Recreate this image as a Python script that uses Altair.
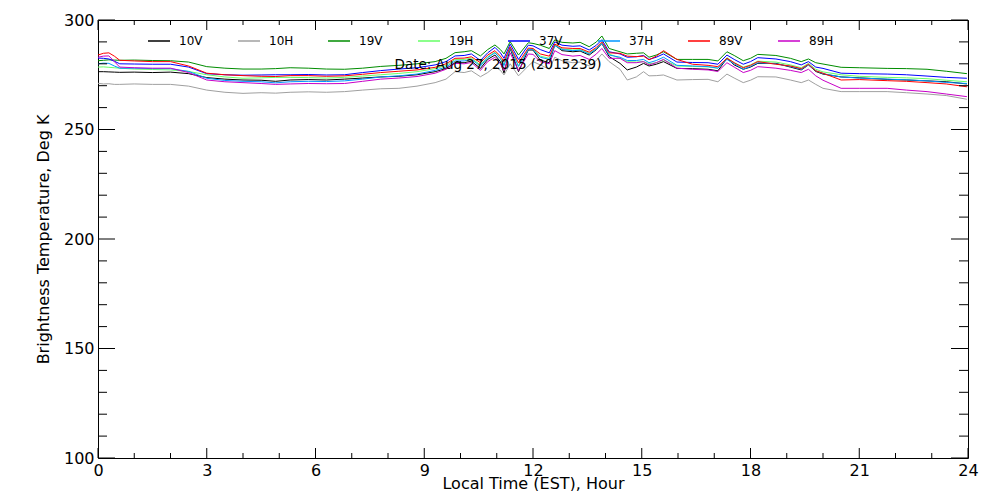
import altair as alt
import pandas as pd

# ---------------- data ----------------
hours = [0, 0.15, 0.3, 0.45, 0.6, 1.0, 1.5, 2.0, 2.5, 3.0,
         3.5, 4.0, 4.5, 4.9, 5.3, 5.8, 6.3, 6.8, 7.3, 7.8,
         8.3, 8.8, 9.3, 9.6, 9.85, 10.1, 10.3, 10.55, 10.75, 10.95,
         11.1, 11.2, 11.37, 11.6, 11.87, 12.0, 12.2, 12.45, 12.6, 12.8,
         13.1, 13.3, 13.55, 13.75, 13.9, 14.1, 14.4, 14.6, 14.85, 15.05,
         15.2, 15.4, 15.6, 15.97, 16.4, 16.83, 17.1, 17.35, 17.55, 17.8,
         18.0, 18.2, 18.7, 19.1, 19.4, 19.6, 19.8, 20.0, 20.5, 21.0,
         21.77, 22.3, 22.87, 23.4, 23.97]

tb_10v = [276.4, 276.4, 276.3, 276.2, 276.1, 276.2, 276.0, 276.2, 275.5, 273.7,
          273.0, 272.6, 272.5, 272.0, 272.6, 272.8, 272.6, 273.0, 273.5, 274.0,
          274.3, 275.0, 276.4, 277.8, 280.5, 280.5, 281.2, 277.9, 282.0, 284.0,
          281.0, 275.7, 287.0, 276.4, 286.3, 286.3, 281.7, 280.5, 288.6, 286.0,
          285.5, 285.8, 284.0, 286.5, 289.3, 283.3, 280.2, 277.2, 278.5, 280.2,
          279.0, 279.8, 281.0, 277.9, 277.8, 277.5, 276.8, 282.5, 279.5, 277.5,
          278.5, 280.2, 280.2, 278.5, 277.2, 279.5, 276.5, 275.3, 274.0, 273.6,
          272.9, 272.6, 272.2, 271.8, 270.8]
tb_10h = [271.1, 270.8, 270.9, 270.6, 270.6, 270.8, 270.6, 270.6, 269.8, 268.0,
          267.0, 266.5, 266.8, 266.6, 267.0, 267.2, 267.0, 267.3, 268.0, 268.6,
          268.8, 269.8, 271.4, 273.0, 276.4, 276.0, 276.8, 274.1, 276.0, 278.7,
          277.0, 274.9, 280.0, 274.5, 279.0, 281.0, 279.5, 277.5, 283.0, 281.4,
          280.5, 280.8, 279.0, 281.5, 284.5, 281.0, 277.5, 272.6, 274.0, 276.4,
          274.5, 274.6, 274.9, 272.6, 272.8, 272.9, 271.8, 275.3, 273.5, 271.4,
          272.5, 274.1, 274.0, 272.6, 271.4, 272.6, 270.6, 268.8, 267.3, 267.3,
          267.3, 266.8, 266.2, 265.5, 263.8]
tb_19v = [281.4, 281.6, 281.8, 281.7, 281.6, 281.7, 281.5, 281.4, 280.8, 278.7,
          278.0, 277.6, 277.6, 277.8, 278.2, 278.0, 277.6, 277.5, 278.0, 278.8,
          279.3, 280.0, 281.0, 282.5, 285.1, 285.5, 286.0, 283.6, 286.5, 288.6,
          286.5, 284.5, 290.1, 284.0, 289.6, 289.3, 288.5, 287.0, 290.9, 289.8,
          289.5, 289.8, 287.8, 290.0, 292.7, 287.0, 285.5, 284.5, 284.8, 285.0,
          283.0, 284.0, 285.5, 282.0, 282.0, 282.0, 281.3, 285.5, 283.8, 281.4,
          282.5, 284.3, 283.8, 282.5, 281.0, 282.2, 280.5, 279.9, 278.4, 278.2,
          277.9, 277.8, 277.5, 276.6, 275.5]
tb_19h = [278.5, 278.6, 278.4, 278.2, 278.0, 277.6, 277.4, 277.2, 276.5, 275.0,
          274.0, 273.4, 273.6, 273.8, 273.8, 273.7, 273.5, 273.8, 274.4, 275.0,
          275.6, 276.4, 277.8, 279.2, 282.0, 282.0, 282.6, 279.5, 283.2, 285.3,
          282.5, 279.5, 287.5, 279.0, 286.8, 286.8, 283.5, 282.5, 288.5, 286.8,
          286.3, 286.5, 284.8, 287.0, 289.5, 284.5, 282.5, 281.0, 280.8, 281.0,
          280.0, 280.5, 281.8, 279.0, 278.8, 278.6, 278.0, 282.8, 280.5, 278.5,
          279.5, 281.2, 280.8, 279.5, 278.2, 280.2, 277.5, 276.3, 275.0, 274.3,
          273.8, 273.6, 273.2, 272.5, 271.8]
tb_37v = [282.6, 282.5, 282.2, 281.2, 280.0, 279.9, 279.8, 279.8, 278.5, 275.5,
          275.0, 274.8, 274.9, 275.0, 275.0, 275.1, 274.9, 275.0, 276.0, 276.9,
          277.6, 278.2, 279.5, 281.0, 283.6, 283.8, 284.5, 281.5, 285.0, 287.5,
          285.0, 282.5, 289.0, 282.0, 288.5, 288.2, 286.5, 285.0, 290.0, 288.5,
          288.0, 288.2, 286.3, 288.5, 291.0, 285.5, 284.5, 283.0, 283.2, 283.8,
          282.0, 283.0, 284.5, 280.8, 280.6, 280.5, 279.8, 284.0, 282.0, 279.8,
          281.0, 282.8, 282.2, 281.0, 279.5, 281.0, 278.5, 277.9, 275.7, 275.5,
          275.3, 275.0, 274.4, 273.8, 273.4]
tb_37h = [280.0, 280.3, 280.2, 279.0, 278.0, 278.0, 277.8, 277.8, 276.5, 273.4,
          272.4, 272.0, 271.8, 271.3, 271.8, 272.0, 271.9, 272.2, 273.0, 274.0,
          274.5, 275.3, 277.0, 278.5, 281.3, 281.3, 282.0, 279.0, 282.8, 285.0,
          282.3, 279.2, 287.3, 278.8, 286.5, 286.5, 283.0, 282.0, 288.3, 286.5,
          286.0, 286.2, 284.5, 286.8, 289.3, 284.0, 283.0, 281.5, 281.5, 282.0,
          280.5, 281.5, 283.0, 279.3, 279.0, 278.7, 278.0, 282.0, 280.0, 277.5,
          278.8, 280.5, 280.0, 278.8, 277.5, 279.5, 276.8, 275.5, 274.0, 273.5,
          273.0, 272.7, 272.2, 271.5, 271.0]
tb_89v = [284.0, 284.8, 285.0, 283.5, 281.6, 281.3, 281.0, 281.0, 279.0, 275.7,
          275.0, 274.6, 274.3, 274.2, 274.6, 274.6, 274.3, 274.5, 275.2, 276.0,
          276.6, 277.2, 278.4, 280.0, 282.5, 282.6, 283.2, 280.5, 284.0, 286.0,
          283.5, 281.0, 287.8, 280.5, 287.2, 287.0, 284.5, 283.5, 289.0, 287.3,
          287.0, 287.0, 285.3, 287.5, 290.0, 285.0, 284.8, 283.5, 283.3, 283.5,
          281.8, 283.5, 286.0, 282.0, 279.8, 279.3, 278.7, 282.5, 280.5, 278.2,
          279.3, 281.0, 279.8, 279.0, 277.8, 279.8, 276.8, 275.7, 272.6, 272.8,
          272.3, 272.0, 271.4, 270.8, 269.5]
tb_89h = [283.0, 283.5, 283.6, 281.0, 278.5, 278.2, 278.0, 278.0, 276.0, 272.6,
          271.8, 271.4, 271.0, 270.6, 270.8, 271.0, 270.9, 271.0, 272.0, 273.0,
          273.5, 274.2, 275.7, 277.5, 280.2, 280.0, 280.6, 277.0, 281.0, 283.0,
          280.0, 277.0, 285.0, 277.0, 284.5, 284.3, 281.0, 280.0, 286.0, 284.2,
          283.5, 283.8, 282.0, 284.5, 287.0, 282.5, 282.5, 280.5, 280.5, 281.0,
          279.5, 280.5, 282.0, 278.0, 277.5, 277.2, 276.5, 280.5, 278.5, 276.0,
          277.0, 278.7, 278.0, 277.0, 276.0, 277.5, 274.5, 272.5, 268.8, 268.8,
          268.8, 268.0, 267.3, 266.2, 265.0]

channels = ["10V", "10H", "19V", "19H", "37V", "37H", "89V", "89H"]
channel_colors = ["#000000", "#a0a0a0", "#008c00", "#66ff66",
                  "#0000ff", "#0096ff", "#ff0000", "#c800c8"]
series = [tb_10v, tb_10h, tb_19v, tb_19h, tb_37v, tb_37h, tb_89v, tb_89h]

x_major = [0, 3, 6, 9, 12, 15, 18, 21, 24]
x_minor = [1, 2, 4, 5, 7, 8, 10, 11, 13, 14, 16, 17, 19, 20, 22, 23]
y_major = [100, 150, 200, 250, 300]
y_minor = [110, 120, 130, 140, 160, 170, 180, 190, 210, 220, 230, 240,
           260, 270, 280, 290]
date_label = "Date: Aug 27, 2015 (2015239)"

# ---------------- chart ----------------
W, H = 870, 438
FONT = "DejaVu Sans"

rows = []
for name, vals in zip(channels, series):
    for h, v in zip(hours, vals):
        rows.append({"hour": h, "tb": v, "channel": name})
df = pd.DataFrame(rows)

xscale = alt.Scale(domain=[0, 24], nice=False, zero=False)
yscale = alt.Scale(domain=[100, 300], nice=False, zero=False)
xaxis = alt.Axis(values=x_major, format="d", tickSize=0, domain=False, grid=False,
                 labelFontSize=16, labelFont=FONT, labelColor="black", labelPadding=4,
                 labelFontWeight="normal", labelFlush=False,
                 title="Local Time (EST), Hour", titleFontSize=16, titleFont=FONT,
                 titleFontWeight="normal", titleColor="black", titlePadding=-3)
yaxis = alt.Axis(values=y_major, format="d", tickSize=0, domain=False, grid=False,
                 labelFontSize=16, labelFont=FONT, labelColor="black", labelPadding=4,
                 labelFontWeight="normal", labelFlush=False,
                 title="Brightness Temperature, Deg K", titleFontSize=16, titleFont=FONT,
                 titleFontWeight="normal", titleColor="black", titlePadding=12)

X = lambda f: alt.X(f, type="quantitative", scale=xscale, axis=xaxis)
Y = lambda f: alt.Y(f, type="quantitative", scale=yscale, axis=yaxis)

lines = alt.Chart(df).mark_line(strokeWidth=1).encode(
    x=X("hour"),
    y=Y("tb"),
    color=alt.Color("channel:N",
                    scale=alt.Scale(domain=channels, range=channel_colors),
                    sort=channels,
                    legend=alt.Legend(orient="none", legendX=49, legendY=9,
                                      direction="horizontal", columns=8,
                                      gridAlign="all", title=None,
                                      symbolType="stroke", symbolSize=484,
                                      symbolStrokeWidth=1.5, labelOffset=8,
                                      labelFontSize=12, labelFont=FONT,
                                      labelColor="black", columnPadding=31,
                                      padding=0)),
)


def xticks(vals, length, top):
    d = pd.DataFrame({"hour": vals})
    y0 = 0 if top else H
    y1 = length if top else H - length
    return alt.Chart(d).mark_rule(color="black", strokeWidth=1).encode(
        x=X("hour"), y=alt.value(y0), y2=alt.value(y1))


def yticks(vals, length, right):
    d = pd.DataFrame({"tb": vals})
    x0 = W if right else 0
    x1 = W - length if right else length
    return alt.Chart(d).mark_rule(color="black", strokeWidth=1).encode(
        y=Y("tb"), x=alt.value(x0), x2=alt.value(x1))


date_text = alt.Chart(pd.DataFrame({"label": [date_label]})).mark_text(
    font=FONT, fontSize=13.5, color="black", align="center", baseline="middle"
).encode(text="label:N", x=alt.value(400), y=alt.value(45))

chart = alt.layer(
    lines,
    xticks(x_major, 10, False), xticks(x_major, 10, True),
    xticks(x_minor, 5, False), xticks(x_minor, 5, True),
    yticks(y_major, 17, False), yticks(y_major, 17, True),
    yticks(y_minor, 9, False), yticks(y_minor, 9, True),
    date_text,
).properties(
    width=W, height=H,
    autosize=alt.AutoSizeParams(type="none"),
    padding={"left": 90, "top": 12, "right": 22, "bottom": 33},
    background="white",
).configure_view(stroke="black", strokeWidth=1)

chart.save("out.html", embed_options={"renderer": "svg", "actions": False})
